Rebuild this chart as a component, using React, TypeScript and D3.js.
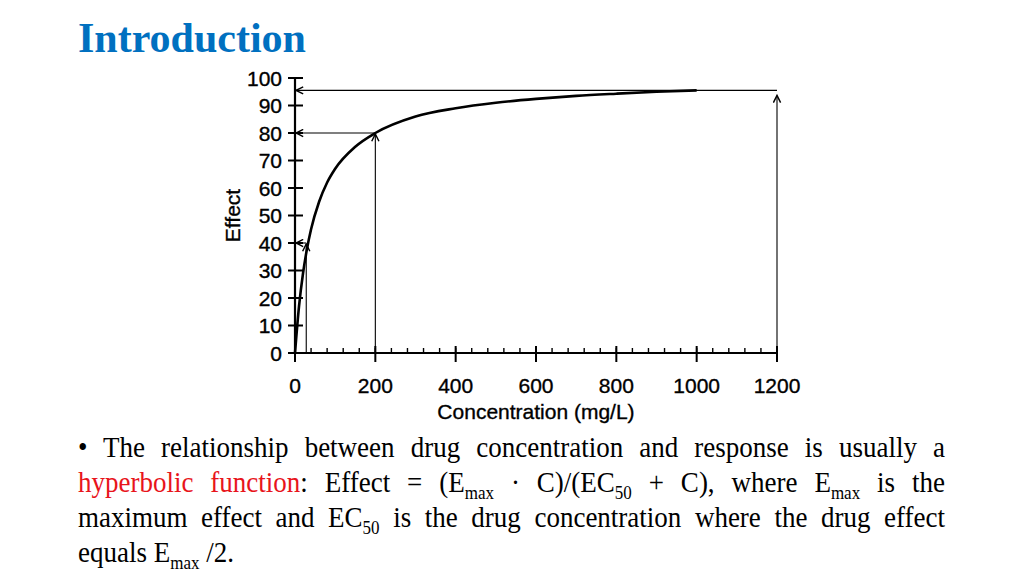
import React, { useEffect, useRef } from "react";
import * as d3 from "d3";

// curve
const concentration = [0, 10, 20, 30, 40, 60, 80, 100, 150, 200, 300, 400, 500, 600, 700, 800, 900, 1000];
const effect = [0, 17, 29, 38, 45, 55, 62, 67, 75, 80, 86, 89, 91, 92.4, 93.5, 94.3, 95, 95.5];

// guide arrows: concentration on x axis -> effect on y axis
const arrowConc = [28, 200, 1200];
const arrowEffect = [40, 80, 95.5];

const yTicks = [0, 10, 20, 30, 40, 50, 60, 70, 80, 90, 100];
const xTicks = [0, 200, 400, 600, 800, 1000, 1200];
const xMinor = d3.range(0, 1201, 40);

type Seg = { t: string; sub?: boolean; red?: boolean };
const lines: { segs: Seg[]; justify: boolean }[] = [
  { segs: [{ t: "• The relationship between drug concentration and response is usually a" }], justify: true },
  {
    segs: [
      { t: "hyperbolic function", red: true },
      { t: ": Effect = (E" },
      { t: "max", sub: true },
      { t: " · C)/(EC" },
      { t: "50", sub: true },
      { t: " + C), where E" },
      { t: "max", sub: true },
      { t: " is the" },
    ],
    justify: true,
  },
  {
    segs: [
      { t: "maximum effect and EC" },
      { t: "50", sub: true },
      { t: " is the drug concentration where the drug effect" },
    ],
    justify: true,
  },
  { segs: [{ t: "equals E" }, { t: "max", sub: true }, { t: " /2." }], justify: false },
];

const W = 1024;
const H = 576;

export default function App() {
  const textRef = useRef<SVGGElement | null>(null);

  const x = d3.scaleLinear().domain([0, 1200]).range([295, 777]);
  const y = d3.scaleLinear().domain([0, 100]).range([353, 78]);

  const line = d3
    .line<number>()
    .x((_, i) => x(concentration[i]))
    .y((d) => y(d))
    .curve(d3.curveMonotoneX);

  const textLeft = 78;
  const textRight = 945;
  const baseY = 457;
  const lineH = 35;
  const stretch = 1.1;

  useEffect(() => {
    if (!textRef.current) return;
    const g = d3.select(textRef.current);
    g.selectAll<SVGTextElement, unknown>("text.justify").each(function () {
      const el = this;
      el.setAttribute("word-spacing", "0");
      const natural = el.getComputedTextLength();
      const spaces = (el.textContent || "").split(" ").length - 1;
      if (spaces > 0) {
        const extra = (textRight - textLeft - natural) / spaces;
        el.setAttribute("word-spacing", String(extra));
      }
    });
  }, []);

  const font = "'Liberation Sans', Arial, sans-serif";
  const serif = "'Liberation Serif', 'Times New Roman', serif";

  return (
    <svg width={W} height={H} style={{ position: "absolute", left: 0, top: 0, background: "#fff" }}>
      <defs>
        <marker id="arr" viewBox="0 0 10 10" refX="9" refY="5" markerWidth="9" markerHeight="9" orient="auto" markerUnits="userSpaceOnUse">
          <path d="M1,1 L9,5 L1,9" fill="none" stroke="#000" strokeWidth="1.6" />
        </marker>
      </defs>

      <text x={78} y={52} fontFamily={serif} fontWeight="bold" fontSize={42} fill="#0070C0">
        Introduction
      </text>

      {/* guide arrows */}
      <g stroke="#000" strokeWidth={1.1} fill="none">
        {arrowConc.map((c, i) => (
          <g key={i}>
            <line x1={x(c)} y1={y(0)} x2={x(c)} y2={y(arrowEffect[i]) + (i === 2 ? 5 : 1)} markerEnd="url(#arr)" />
            <line x1={x(c)} y1={y(arrowEffect[i])} x2={x(0) + 1} y2={y(arrowEffect[i])} markerEnd="url(#arr)" />
          </g>
        ))}
      </g>

      {/* curve */}
      <path d={line(effect) || ""} fill="none" stroke="#000" strokeWidth={2.6} />

      {/* y axis */}
      <g stroke="#000">
        <line x1={x(0)} x2={x(0)} y1={y(0)} y2={y(100)} strokeWidth={2.2} />
        {yTicks.map((t) => (
          <line key={t} x1={x(0) - 7} x2={x(0) + 8} y1={y(t)} y2={y(t)} strokeWidth={2} />
        ))}
      </g>
      <g fontFamily={font} fontSize={21} fill="#000" stroke="#000" strokeWidth={0.35} textAnchor="end">
        {yTicks.map((t) => (
          <text key={t} x={282} y={y(t)} dy="0.36em">
            {t}
          </text>
        ))}
      </g>
      <text
        transform={`translate(240,${(y(0) + y(100)) / 2}) rotate(-90)`}
        textAnchor="middle"
        fontFamily={font}
        fontSize={21}
        fill="#000"
        stroke="#000"
        strokeWidth={0.35}
      >
        Effect
      </text>

      {/* x axis */}
      <g stroke="#000">
        <line x1={x(0)} x2={x(1200)} y1={y(0)} y2={y(0)} strokeWidth={2} />
        {xMinor.map((t) => (
          <line key={t} x1={x(t)} x2={x(t)} y1={y(0) - 5} y2={y(0)} strokeWidth={1.4} />
        ))}
        {xTicks.map((t) => (
          <line key={t} x1={x(t)} x2={x(t)} y1={y(0) - 7} y2={y(0) + 9} strokeWidth={2} />
        ))}
      </g>
      <g fontFamily={font} fontSize={21} fill="#000" stroke="#000" strokeWidth={0.35} textAnchor="middle">
        {xTicks.map((t) => (
          <text key={t} x={x(t)} y={393}>
            {t}
          </text>
        ))}
      </g>
      <text
        x={(x(0) + x(1200)) / 2}
        y={419}
        textAnchor="middle"
        fontFamily={font}
        fontSize={21}
        fill="#000"
        stroke="#000"
        strokeWidth={0.35}
      >
        Concentration (mg/L)
      </text>

      {/* body text */}
      <g ref={textRef} fontFamily={serif} fontSize={27} fill="#000">
        {lines.map((l, i) => {
          const by = baseY + i * lineH;
          return (
            <text
              key={i}
              className={l.justify ? "justify" : ""}
              x={textLeft}
              y={by}
              xmlSpace="preserve"
              transform={`translate(0,${by}) scale(1,${stretch}) translate(0,${-by})`}
            >
              {l.segs.map((s, j) => {
                const prevSub = j > 0 && l.segs[j - 1].sub;
                return (
                  <tspan
                    key={j}
                    fill={s.red ? "#E8141B" : undefined}
                    fontSize={s.sub ? 17 : undefined}
                    dy={s.sub ? 6 : prevSub ? -6 : undefined}
                  >
                    {s.t}
                  </tspan>
                );
              })}
            </text>
          );
        })}
      </g>
    </svg>
  );
}
